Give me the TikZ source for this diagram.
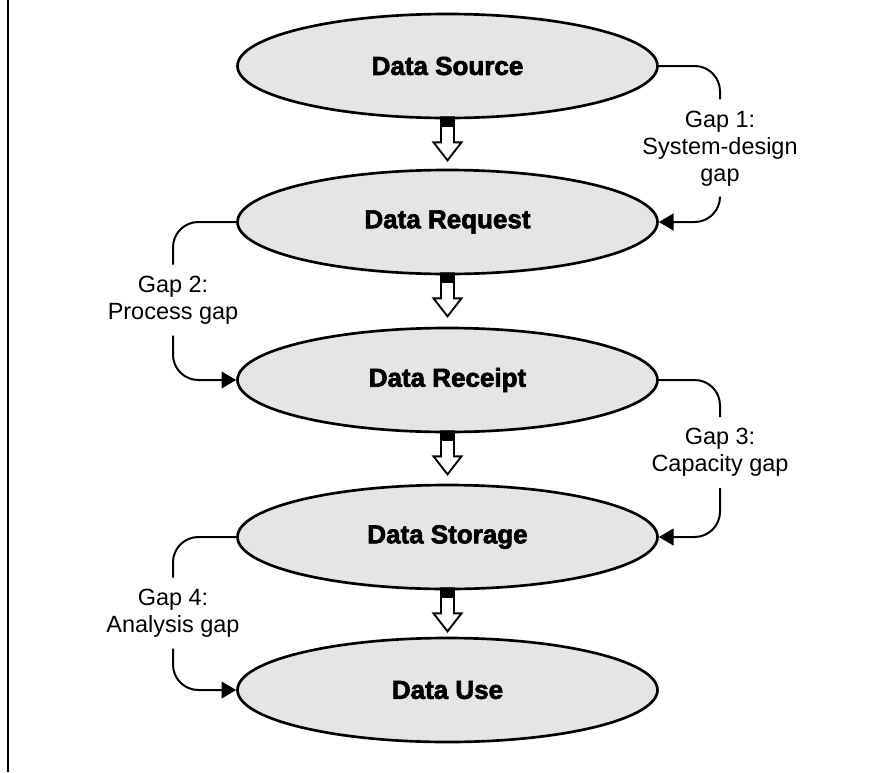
\documentclass[tikz,border=0pt]{standalone}
\usepackage{fontspec}
\setmainfont{Liberation Sans}
\newfontfamily\stagefont{Liberation Sans}[BoldFeatures={FakeBold=2.5}]
\usepackage{tikz}
\usetikzlibrary{shapes}
\usetikzlibrary{arrows.meta}

\begin{document}
\begin{tikzpicture}[x=0.75pt,y=0.75pt,yscale=-1,xscale=1,
  stage/.style={ellipse, draw, line width=2pt, fill=black!10, minimum width=315pt, minimum height=78pt, inner sep=0pt, font=\stagefont\bfseries\fontsize{19.5}{22}\selectfont},
  gaplabel/.style={align=center, inner xsep=2pt, inner ysep=8.3pt, font=\fontsize{17.6}{20.3}\selectfont},
  gapline/.style={line width=1.5pt, rounded corners=19pt},
  gaptip/.style={-{Triangle[length=11pt,width=12.5pt]}},
  blockarrow/.style={draw, line width=1.4pt, fill=white, line join=miter}]
\useasboundingbox (0,0) rectangle (875,772);
\draw [line width=1.9pt] (8,0) -- (8,772);
% stages
\node [stage] (source) at (447.5,66) {Data Source};
\node [stage] (request) at (447.5,222) {Data Request};
\node [stage] (receipt) at (447.5,380) {Data Receipt};
\node [stage] (storage) at (447.5,537) {Data Storage};
\node [stage] (use) at (447.5,690) {Data Use};
% hollow arrows between stages
\foreach \a in {source,request,receipt,storage} {
  \draw [blockarrow, shift={(\a.south)}] (-6.5,-2) -- (-6.5,23) -- (-14,23) -- (0,41) -- (14,23) -- (6.5,23) -- (6.5,-2) -- cycle;
  \fill [shift={(\a.south)}] (-6.5,-2) rectangle (6.5,8);
}
% gaps
\node [gaplabel] (gap1) at (720,148.5) {Gap 1:\\System-design\\gap};
\node [gaplabel] (gap2) at (173,300) {Gap 2:\\Process gap};
\node [gaplabel] (gap3) at (720,452.5) {Gap 3:\\Capacity gap};
\node [gaplabel] (gap4) at (173,613) {Gap 4:\\Analysis gap};
\draw [gapline] (source.east) -| (gap1.north);
\draw [gapline, gaptip] (gap1.south) |- (request.east);
\draw [gapline] (request.west) -| (gap2.north);
\draw [gapline, gaptip] (gap2.south) |- (receipt.west);
\draw [gapline] (receipt.east) -| (gap3.north);
\draw [gapline, gaptip] (gap3.south) |- (storage.east);
\draw [gapline] (storage.west) -| (gap4.north);
\draw [gapline, gaptip] (gap4.south) |- (use.west);
\end{tikzpicture}
\end{document}
